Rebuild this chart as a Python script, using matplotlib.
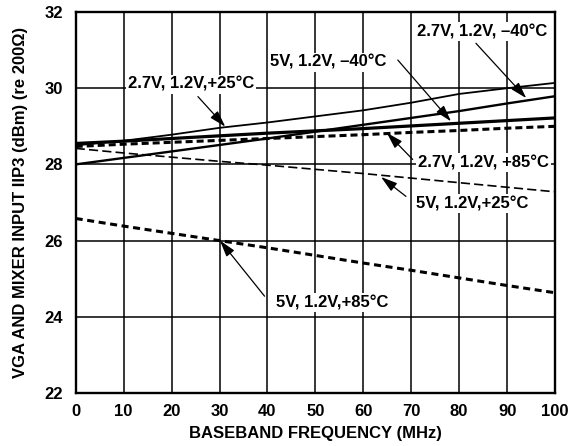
import matplotlib
matplotlib.use("Agg")
import matplotlib.pyplot as plt
import numpy as np

plt.rcParams['font.family'] = ['Liberation Sans', 'DejaVu Sans']
plt.rcParams['font.weight'] = 'bold'

freq = [0, 10, 20, 30, 40, 50, 60, 70, 80, 90, 100]
s27_25 = [28.50, 28.62, 28.78, 28.96, 29.10, 29.26, 29.42, 29.62, 29.85, 30.00, 30.14]
s5_m40 = [28.55, 28.61, 28.68, 28.75, 28.82, 28.88, 28.94, 29.01, 29.08, 29.15, 29.22]
s27_m40 = [28.00, 28.17, 28.34, 28.51, 28.68, 28.86, 29.04, 29.22, 29.40, 29.60, 29.79]
s27_85 = [28.47, 28.53, 28.58, 28.63, 28.68, 28.73, 28.78, 28.84, 28.89, 28.95, 29.00]
s5_25 = [28.42, 28.30, 28.19, 28.08, 27.98, 27.87, 27.76, 27.64, 27.52, 27.40, 27.28]
s5_85 = [26.58, 26.38, 26.19, 26.00, 25.81, 25.61, 25.41, 25.22, 25.02, 24.82, 24.63]

xticks = [0, 10, 20, 30, 40, 50, 60, 70, 80, 90, 100]
yticks = [22, 24, 26, 28, 30, 32]

FS = 12

fig = plt.figure(figsize=(5.71, 4.46), dpi=100)
ax = fig.add_axes([0.1326, 0.119, 0.8394, 0.854])

ax.plot(freq, s27_25, color='black', lw=1.3, solid_capstyle='butt')
ax.plot(freq, s5_m40, color='black', lw=2.3, solid_capstyle='butt')
ax.plot(freq, s27_m40, color='black', lw=1.7, solid_capstyle='butt')
ax.plot(freq, s27_85, color='black', lw=2.2, dashes=(2.3, 1.3))
ax.plot(freq, s5_25, color='black', lw=1.2, dashes=(5.5, 2.5))
ax.plot(freq, s5_85, color='black', lw=2.2, dashes=(2.3, 1.5))

ax.set_xlim(0, 100)
ax.set_ylim(22, 32)
ax.set_xticks(xticks)
ax.set_yticks(yticks)
ax.set_xticklabels([str(t) for t in xticks], fontsize=FS, fontweight='bold')
ax.set_yticklabels([str(t) for t in yticks], fontsize=FS, fontweight='bold')
ax.tick_params(axis='y', length=0, pad=9)
ax.tick_params(axis='x', length=0, pad=8)
ax.grid(True, color='black', lw=1.1)
for s in ax.spines.values():
    s.set_linewidth(1.7)

ax.set_xlabel('BASEBAND FREQUENCY (MHz)', fontsize=FS, fontweight='bold', labelpad=5)
ax.set_ylabel('VGA AND MIXER INPUT IIP3 (dBm) (re 200\u03a9)', fontsize=FS, fontweight='bold', labelpad=12)

bbox = dict(facecolor='white', edgecolor='none', pad=1.5)
arrow = dict(arrowstyle='-|>,head_length=1.0,head_width=0.3', color='black', lw=0.9,
             shrinkA=0, shrinkB=0, mutation_scale=10)

labels = [
    ('2.7V, 1.2V,+25\u00b0C', (24.0, 30.1), (25.5, 29.78), (31.2, 28.99)),
    ('5V, 1.2V, \u201340\u00b0C', (52.6, 30.68), (67.2, 30.74), (78.3, 29.13)),
    ('2.7V, 1.2V, \u201340\u00b0C', (84.7, 31.48), (83.5, 31.18), (94.0, 29.74)),
    ('2.7V, 1.2V, +85\u00b0C', (85.0, 28.04), (70.3, 28.13), (64.9, 28.83)),
    ('5V, 1.2V,+25\u00b0C', (82.8, 26.97), (68.9, 27.16), (63.7, 27.67)),
    ('5V, 1.2V,+85\u00b0C', (53.6, 24.37), (39.4, 24.54), (30.1, 26.0)),
]
for text, pos, tail, tip in labels:
    ax.annotate('', xy=tip, xytext=tail, arrowprops=arrow, zorder=4)
    ax.text(pos[0], pos[1], text, ha='center', va='center', fontsize=FS, fontweight='bold',
            bbox=bbox, zorder=5)

fig.savefig('out.png', dpi=100)
